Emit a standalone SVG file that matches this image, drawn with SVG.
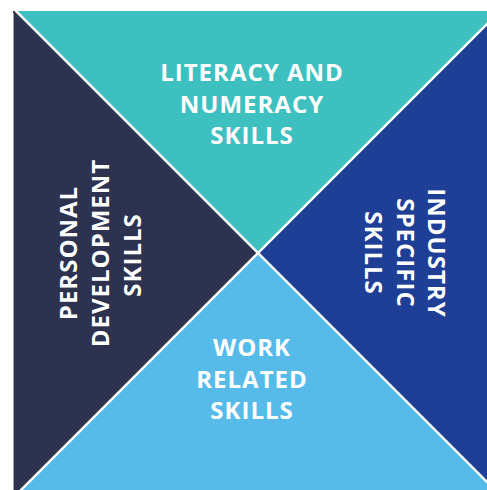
<svg xmlns="http://www.w3.org/2000/svg" width="487" height="490" viewBox="0 0 487 490">
  <defs>
    <style>
      .lbl { font-family: "Open Sans", "Liberation Sans", sans-serif; font-weight: 700; font-size: 24px; letter-spacing: 1px; fill: #ffffff; text-anchor: middle; }
      .gap { stroke: #ffffff; stroke-width: 2.5; fill: none; }
    </style>
    <clipPath id="sq"><rect x="13" y="11" width="480" height="485"/></clipPath>
  </defs>
  <rect width="487" height="490" fill="#ffffff"/>
  <g clip-path="url(#sq)">
    <g id="literacy">
      <polygon points="16,11 500,11 258,253" fill="#3ebfc0"/>
      <text class="lbl" x="252" y="81">LITERACY AND</text>
      <text class="lbl" x="252" y="113">NUMERACY</text>
      <text class="lbl" x="252" y="144">SKILLS</text>
    </g>
    <g id="personal">
      <polygon points="0,-5 258,253 0,511" fill="#2c3250"/>
      <text class="lbl" transform="translate(77,253) rotate(-90)">PERSONAL</text>
      <text class="lbl" transform="translate(109,253) rotate(-90)">DEVELOPMENT</text>
      <text class="lbl" transform="translate(141,255) rotate(-90)">SKILLS</text>
    </g>
    <g id="industry">
      <polygon points="510,1 258,253 510,505" fill="#1f3f97"/>
      <text class="lbl" transform="translate(428,253) rotate(90)">INDUSTRY</text>
      <text class="lbl" transform="translate(397,253) rotate(90)">SPECIFIC</text>
      <text class="lbl" transform="translate(365,253) rotate(90)">SKILLS</text>
    </g>
    <g id="work">
      <polygon points="0,511 258,253 516,511" fill="#57bbe9"/>
      <text class="lbl" x="252" y="356">WORK</text>
      <text class="lbl" x="252" y="388">RELATED</text>
      <text class="lbl" x="252" y="419">SKILLS</text>
    </g>
    <g id="connectors">
      <line class="gap" x1="0" y1="-5" x2="516" y2="511"/>
      <line class="gap" x1="0" y1="511" x2="516" y2="-5"/>
    </g>
  </g>
  <line x1="13.5" y1="13" x2="13.5" y2="490" stroke="#a0a0a8" stroke-width="1"/>
</svg>
